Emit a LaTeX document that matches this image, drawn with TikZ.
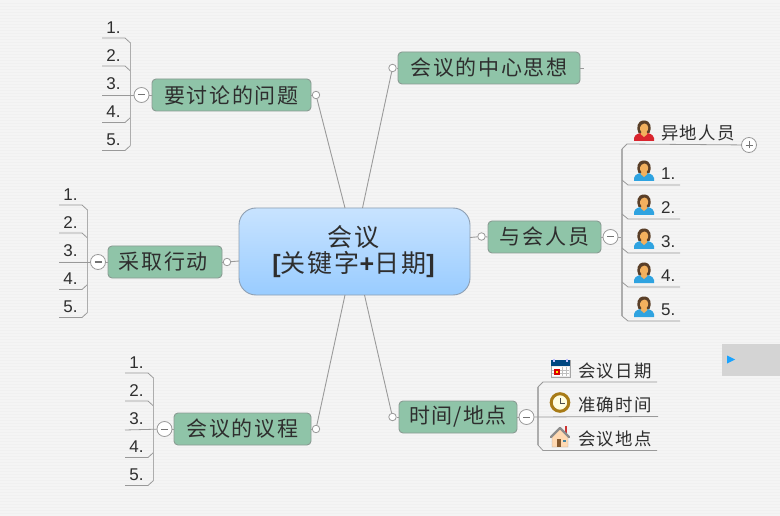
\documentclass[tikz,border=0pt]{standalone}
\usepackage{fontspec}
\newfontfamily\cjk[LetterSpace=8]{Noto Sans CJK SC}
\newfontfamily\cjktight[LetterSpace=5]{Noto Sans CJK SC}
\newfontfamily\latn{Liberation Sans}
\usetikzlibrary{calc}
\definecolor{bgc}{HTML}{F4F4F4}
\definecolor{stripe}{HTML}{F0F0F0}
\definecolor{topicfill}{HTML}{8FC4A8}
\definecolor{topicedge}{HTML}{8A9C93}
\definecolor{conn}{HTML}{9A9A9A}
\definecolor{txt}{HTML}{2E2E2E}
\definecolor{centeredge}{HTML}{8E9FB2}
\definecolor{ctop}{HTML}{C8E3FF}
\definecolor{cmid}{HTML}{99CCFF}
\definecolor{skin}{HTML}{F2B05E}
\definecolor{hair}{HTML}{5A3F28}
\definecolor{shirtblue}{HTML}{2FA3E0}
\definecolor{shirtred}{HTML}{D9252E}
\definecolor{gold}{HTML}{A87B16}
\tikzset{
  topic/.style={draw=topicedge,line width=0.9pt,fill=topicfill,rounded corners=4pt,inner sep=0pt,minimum height=32pt,text=txt,font=\cjk\fontsize{21}{23}\selectfont},
  centertopic/.style={draw=centeredge,line width=0.9pt,rounded corners=17pt,top color=ctop,middle color=cmid,bottom color=cmid,minimum width=231pt,minimum height=87pt,inner sep=0pt,align=center,text=txt,font=\cjk\fontsize{25}{27}\selectfont},
  joint/.style={circle,draw=conn,fill=white,line width=0.8pt,minimum size=7.5pt,inner sep=0pt},
  toggle/.style={circle,draw=conn,fill=white,line width=0.8pt,minimum size=15pt,inner sep=0pt},
  minussign/.style={path picture={\draw[line width=1pt,draw=black!55] ([xshift=-3.5pt]path picture bounding box.center) -- ([xshift=3.5pt]path picture bounding box.center);}},
  plussign/.style={path picture={\draw[line width=0.9pt,draw=black!55] ([xshift=-3.5pt]path picture bounding box.center) -- ([xshift=3.5pt]path picture bounding box.center) ([yshift=-3.5pt]path picture bounding box.center) -- ([yshift=3.5pt]path picture bounding box.center);}},
  conline/.style={draw=conn,line width=0.9pt},
  leafline/.style={draw=black!40,line width=0.8pt,line join=round},
  bracket/.style={draw=black!32,line width=1.2pt,line join=round},
  numleaf/.style={inner sep=0pt,text=txt,font=\latn\fontsize{17}{19}\selectfont},
  cjkleaf/.style={inner sep=0pt,text=txt,font=\cjk\fontsize{17.4}{19}\selectfont},
}
% five numbered leaves on the left of a bracket; origin = left end of first rule
\newcommand\numtree[3]{%
 \begin{scope}[shift={(#1,#2)},name prefix=#3-]
  \node[numleaf] (t1) at (11.5,-10.5) {1.};
  \node[numleaf] (t2) at (11.5,17.5) {2.};
  \node[numleaf] (t3) at (11.5,45.5) {3.};
  \node[numleaf] (t4) at (11.5,73.5) {4.};
  \node[numleaf] (t5) at (11.5,101.5) {5.};
  \coordinate (s1) at (0,0);
  \coordinate (s2) at (0,28);
  \coordinate (s3) at (0,57);
  \coordinate (s4) at (0,84.5);
  \coordinate (s5) at (0,112.5);
  \coordinate (v) at (28.5,0);
  \draw[leafline] (s1) -- ++(23,0) -- ++(5.5,5);
  \draw[leafline] (s2) -- ++(23,0) -- ++(5.5,5);
  \draw[leafline] (s4) -- ++(23,0) -- ++(5.5,-5);
  \draw[leafline] (s5) -- ++(23,0) -- ++(5.5,-5);
  \draw[bracket] (28.5,5) -- (28.5,107.5);
 \end{scope}}
\newcommand\personicon[3]{%
 \begin{scope}[shift={(#1,#2)}]
  \fill[#3] (-10,10) -- (-10,7) .. controls (-9,3) and (-5,2.5) .. (-2.5,1.5) -- (2.5,1.5) .. controls (5,2.5) and (9,3) .. (10,7) -- (10,10) -- cycle;
  \fill[hair] (0,-10.5) .. controls (-7,-10.5) and (-8,-3) .. (-5.5,2) -- (5.5,2) .. controls (8,-3) and (7,-10.5) .. (0,-10.5) -- cycle;
  \fill[skin] (0.5,-7.5) .. controls (-4.5,-7) and (-5,-1) .. (-2.5,1) -- (-3.5,3) -- (0,6) -- (3.5,3) -- (2.5,1) .. controls (5,-1) and (5,-7) .. (0.5,-7.5) -- cycle;
 \end{scope}}
\begin{document}
\begin{tikzpicture}[x=1pt,y=-1pt]
\useasboundingbox (0,0) rectangle (780,516);
\fill[bgc] (0,0) rectangle (780,516);
\foreach \k in {1,...,171}{\draw[stripe,line width=0.6pt] (0,3*\k) -- (780,3*\k);}
% scroll widget
\fill[black!17] (722,344) rectangle (780,376);
\fill[blue!40!cyan!90] (727,355.5) -- (735,359.5) -- (727,363.5) -- cycle;

% topics
\node[centertopic] (center) at (354.5,251.5) {会议\kern2pt\\[-1pt]{\latn\bfseries [}关键字{\latn\bfseries +}日期{\latn\bfseries ]}\kern2pt};
\node[topic,minimum width=159pt] (q) at (231.5,95) {要讨论的问题};
\node[topic,minimum width=182pt] (idea) at (489,68) {会议的中心思想};
\node[topic,minimum width=113pt] (people) at (544.5,237) {与会人员};
\node[topic,minimum width=114pt] (action) at (165,262) {采取行动\kern3pt};
\node[topic,minimum width=137pt] (agenda) at (242.5,429) {会议的议程};
\node[topic,minimum width=118pt] (when) at (458,417) {\cjktight 时间/地点};

% joints
\node[joint] (jq) at (316,95) {};
\node[joint] (jidea) at (392.5,68) {};
\node[joint] (jpeople) at (481.5,236.5) {};
\node[joint] (jaction) at (227,262) {};
\node[joint] (jagenda) at (316,429) {};
\node[joint] (jwhen) at (392.5,417) {};
\coordinate (cq) at (345,208);
\coordinate (cidea) at (362.5,208);
\coordinate (cpeople) at (470,237.5);
\coordinate (caction) at (239,261);
\coordinate (cagenda) at (345,295);
\coordinate (cwhen) at (364.5,295);
\draw[conline] (cq) -- (jq);
\draw[conline] (cidea) -- (jidea);
\draw[conline] (cpeople) -- (jpeople);
\draw[conline] (caction) -- (jaction);
\draw[conline] (cagenda) -- (jagenda);
\draw[conline] (cwhen) -- (jwhen);
\draw[conline] (q.east) -- (jq);
\draw[conline] (idea.west) -- (jidea);
\draw[conline] (people.west) -- (jpeople);
\draw[conline] (action.east) -- (jaction);
\draw[conline] (agenda.east) -- (jagenda);
\draw[conline] (when.west) -- (jwhen);
\coordinate (ideaend) at (584,68);
\draw[conline] (idea.east) -- (ideaend);

% numbered trees
\numtree{102}{38}{ta}
\numtree{59}{205}{tb}
\numtree{125}{373}{tc}
\node[toggle,minussign] (mq) at (141.5,95) {};
\node[toggle,minussign] (mb) at (98,262) {};
\node[toggle,minussign] (mc) at (164.5,429) {};
\draw[leafline] (ta-s3) -- (mq);
\draw[leafline] (tb-s3) -- (mb);
\draw[leafline] (tc-s3) -- (mc);
\draw[conline] (mq) -- (q.west);
\draw[conline] (mb) -- (action.west);
\draw[conline] (mc) -- (agenda.west);

% people tree
\node[toggle,minussign] (mp) at (610.5,237) {};
\draw[conline] (people.east) -- (mp);
\node[toggle,plussign] (plus) at (749,145) {};
\coordinate (pv) at (622,237);
\draw[conline] (mp) -- (pv);
\draw[bracket] (622,149) -- (622,316);
\coordinate (p0) at (627,144);
\draw[leafline] (plus) -- (p0) -- (622,149);
\foreach \n/\y in {1/185,2/219,3/253,4/287}{
  \coordinate (pl\n) at (680,\y);
  \draw[leafline] (pl\n) -- (628,\y) -- (622,\y-5);
}
\coordinate (pl5) at (680,321);
\draw[leafline] (pl5) -- (628,321) -- (622,316);
\personicon{644}{131}{shirtred}
\personicon{644}{171}{shirtblue}
\personicon{644}{205}{shirtblue}
\personicon{644}{239}{shirtblue}
\personicon{644}{273}{shirtblue}
\personicon{644}{307}{shirtblue}
\node[cjkleaf,anchor=west] (pa) at (661,133) {异地人员};
\node[numleaf,anchor=west] (p1) at (661,174) {1.};
\node[numleaf,anchor=west] (p2) at (661,208) {2.};
\node[numleaf,anchor=west] (p3) at (661,242) {3.};
\node[numleaf,anchor=west] (p4) at (661,276) {4.};
\node[numleaf,anchor=west] (p5) at (661,310) {5.};

% time / place tree
\node[toggle,minussign] (mw) at (526.5,417) {};
\draw[conline] (when.east) -- (mw);
\draw[bracket] (538,387) -- (538,445);
\coordinate (w1) at (657,382);
\coordinate (w2) at (658,416.5);
\coordinate (w3) at (657,450.5);
\draw[leafline] (w1) -- (543,382) -- (538,387);
\draw[leafline] (mw) -- (w2);
\draw[leafline] (w3) -- (543,450.5) -- (538,445);
\node[cjkleaf,anchor=west] (wa) at (578,371) {会议日期};
\node[cjkleaf,anchor=west] (wb) at (578,405) {准确时间};
\node[cjkleaf,anchor=west] (wc) at (578,439) {会议地点};
% calendar
\fill[black!8,draw=black!35,line width=0.5pt] (551,360) rectangle (570,377);
\fill[blue!45!cyan!50!black] (551,360) rectangle (570,365.5);
\foreach \a in {554,567}{\draw[white!75!blue,line width=1.1pt] (\a,358.5) -- (\a,362);}
\fill[white] (552,366.5) rectangle (569,376);
\foreach \a in {562,566}{\draw[black!25,line width=0.5pt] (\a,366.5) -- (\a,376);}
\foreach \a in {370,373}{\draw[black!25,line width=0.5pt] (552,\a) -- (569,\a);}
\fill[red!85!black] (554,368.5) rectangle (560,374.5);
\fill[yellow!90!orange] (556,370.5) rectangle (558,372.5);
% clock
\draw[gold,line width=3pt,fill=yellow!12!white] (560,402.5) circle (8.8);
\draw[black!70,line width=0.9pt] (560,398) -- (560,403) -- (565,403);
% house
\fill[red!60!gray] (564.5,426) rectangle (566.5,433);
\fill[orange!30!white,draw=black!35,line width=0.4pt] (552,436) -- (560,428) -- (568,436) -- (568,447) -- (552,447) -- cycle;
\draw[black!45,line width=2.2pt,line join=round,line cap=round] (551,437) -- (560,428) -- (569,437);
\fill[brown!70!black] (556.5,439) rectangle (561,447);
\fill[cyan!60!black] (563,439.5) rectangle (565.5,442);
\end{tikzpicture}
\end{document}
